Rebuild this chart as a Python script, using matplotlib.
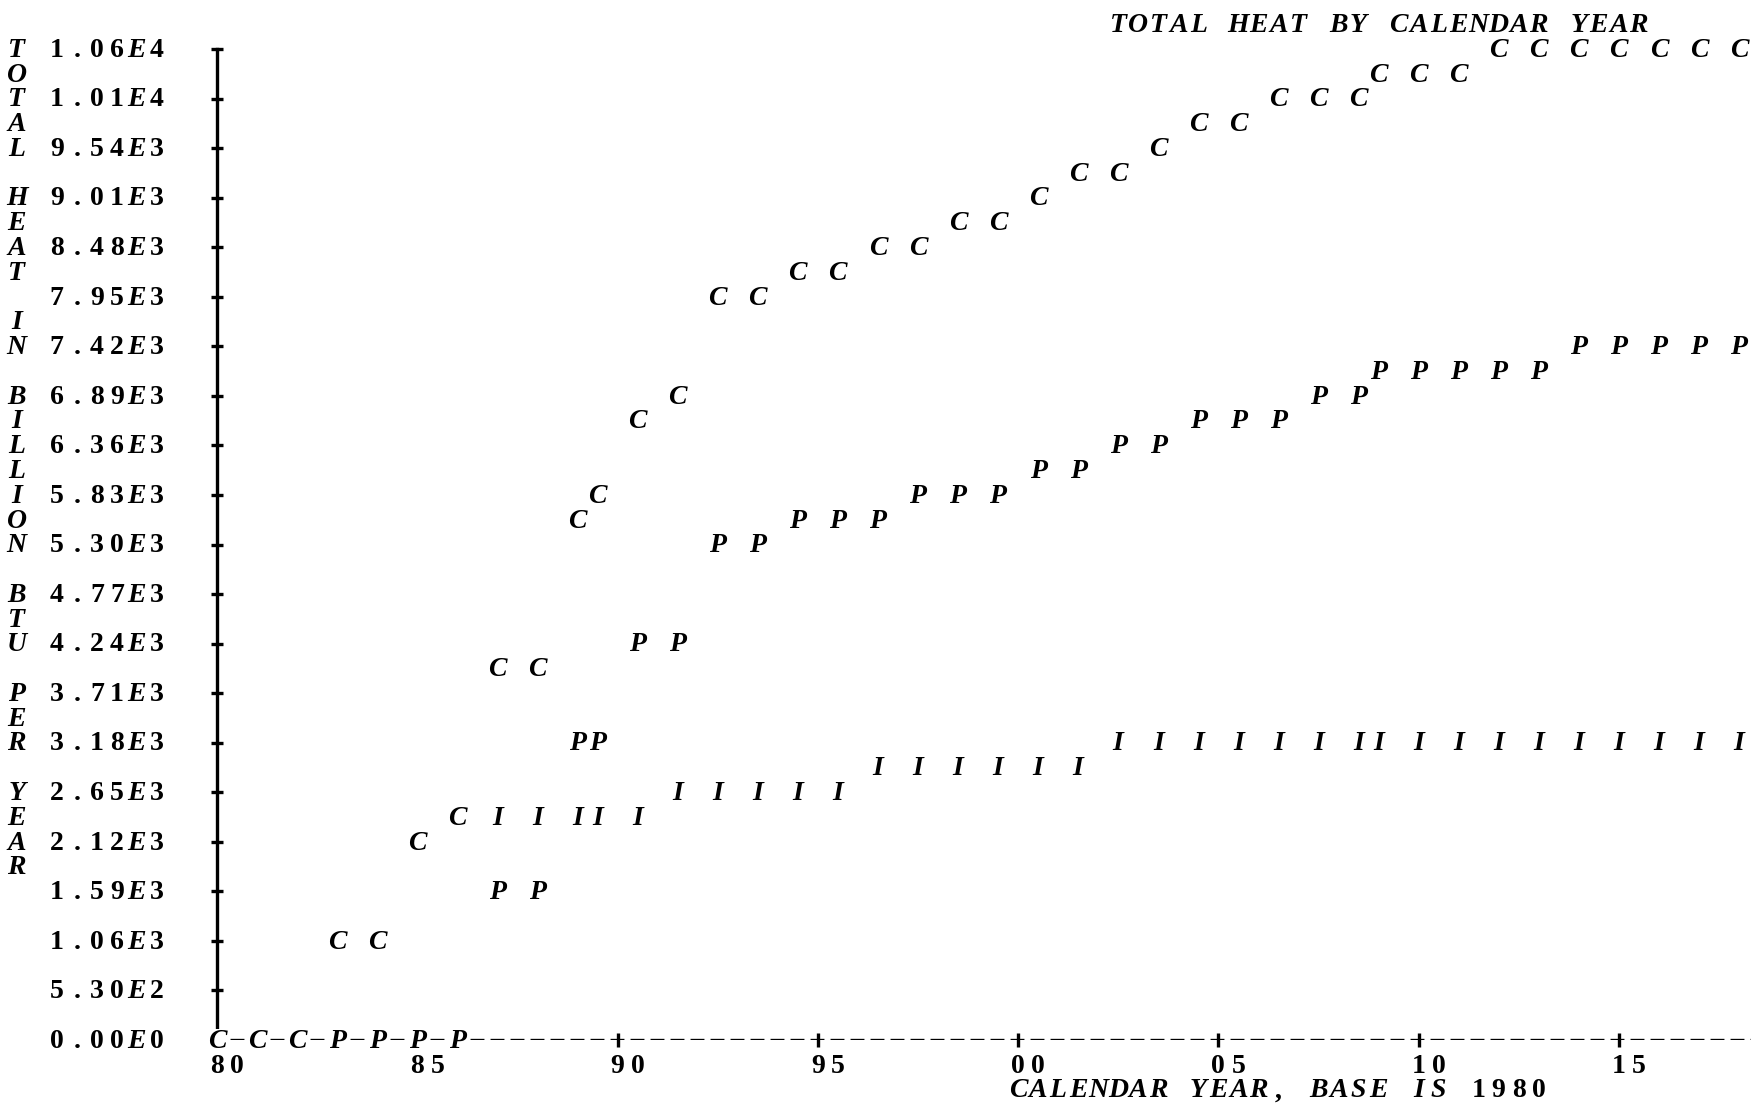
import matplotlib
matplotlib.use("Agg")
import matplotlib.pyplot as plt
from matplotlib.transforms import offset_copy

# line-printer grid: one column = half a year, one row = 265 units
COL = 0.5
ROW = 265

# C series (as printed, x in calendar year base 1980)
c_years = [80, 81, 82, 83, 84, 85, 86, 87, 88, 89,
           89.5, 90.5, 91.5, 92.5, 93.5, 94.5, 95.5, 96.5, 97.5, 98.5,
           99.5, 100.5, 101.5, 102.5, 103.5, 104.5, 105.5, 106.5, 107.5, 108.5,
           109, 110, 111, 112, 113, 114, 115, 116, 117, 118]
c_heat = [0, 0, 0, 1060, 1060, 2120, 2385, 3975, 3975, 5565,
          5830, 6625, 6890, 7950, 7950, 8215, 8215, 8480, 8480, 8745,
          8745, 9010, 9275, 9275, 9540, 9805, 9805, 10070, 10070, 10070,
          10335, 10335, 10335, 10600, 10600, 10600, 10600, 10600, 10600, 10600]

# P series
p_years = [83, 84, 85, 86, 87, 88, 89,
           89.5, 90.5, 91.5, 92.5, 93.5, 94.5, 95.5, 96.5, 97.5, 98.5,
           99.5, 100.5, 101.5, 102.5, 103.5, 104.5, 105.5, 106.5, 107.5, 108.5,
           109, 110, 111, 112, 113, 114, 115, 116, 117, 118]
p_heat = [0, 0, 0, 0, 1590, 1590, 3180,
          3180, 4240, 4240, 5300, 5300, 5565, 5565, 5565, 5830, 5830,
          5830, 6095, 6095, 6360, 6360, 6625, 6625, 6625, 6890, 6890,
          7155, 7155, 7155, 7155, 7155, 7420, 7420, 7420, 7420, 7420]

# I series
i_years = [87, 88, 89, 89.5, 90.5, 91.5, 92.5, 93.5, 94.5, 95.5,
           96.5, 97.5, 98.5, 99.5, 100.5, 101.5, 102.5, 103.5, 104.5, 105.5,
           106.5, 107.5, 108.5, 109, 110, 111, 112, 113, 114, 115,
           116, 117, 118]
i_heat = [2385, 2385, 2385, 2385, 2385, 2650, 2650, 2650, 2650, 2650,
          2915, 2915, 2915, 2915, 2915, 2915, 3180, 3180, 3180, 3180,
          3180, 3180, 3180, 3180, 3180, 3180, 3180, 3180, 3180, 3180,
          3180, 3180, 3180]

y_ticks = [10600, 10070, 9540, 9010, 8480, 7950, 7420, 6890, 6360, 5830, 5300,
           4770, 4240, 3710, 3180, 2650, 2120, 1590, 1060, 530, 0]
y_tick_labels = ["1.06E4", "1.01E4", "9.54E3", "9.01E3", "8.48E3", "7.95E3",
                 "7.42E3", "6.89E3", "6.36E3", "5.83E3", "5.30E3", "4.77E3",
                 "4.24E3", "3.71E3", "3.18E3", "2.65E3", "2.12E3", "1.59E3",
                 "1.06E3", "5.30E2", "0.00E0"]
x_ticks = [80, 85, 90, 95, 100, 105, 110, 115]
x_tick_labels = ["80", "85", "90", "95", "00", "05", "10", "15"]

title = "TOTAL HEAT BY CALENDAR YEAR"
x_label = "CALENDAR YEAR, BASE IS 1980"
y_label = "TOTAL HEAT IN BILLION BTU PER YEAR"

FONT = "Liberation Serif"
SIZE = 20


def put_char(ax, x, y, ch, bg=False):
    style = "italic" if ch.isalpha() else "normal"
    kw = {}
    if bg:
        kw["bbox"] = dict(facecolor="white", edgecolor="none", pad=0.3)
    # baseline shifted down by about half the cap height so letters sit on the row
    tr = offset_copy(ax.transData, fig=ax.figure, y=-0.28 * SIZE, units="points")
    ax.text(x, y, ch, ha="center", va="baseline", family=FONT, size=SIZE,
            weight="bold", style=style, color="black", clip_on=False,
            transform=tr, **kw)


def put(ax, x, y, s):
    # print a string one character per printer column
    for k, ch in enumerate(s):
        if ch != " ":
            put_char(ax, x + k * COL, y, ch)


fig = plt.figure(figsize=(17.51, 11.03), dpi=100)
ax = fig.add_axes([217 / 1751, 63 / 1103, 1 - 217 / 1751, 991 / 1103])
ax.set_xlim(80, 80 + 1534 / 40.05)
ax.set_ylim(0, 10600)

for s in ["top", "right", "bottom"]:
    ax.spines[s].set_visible(False)
ax.spines["left"].set_linewidth(2.4)

# dashed x axis, one dash per printer column
plt.rcParams["lines.scale_dashes"] = False
ax.axhline(0, color="black", lw=2.4, linestyle=(5.0, (10.0, 4.4)), zorder=2)

ax.set_yticks(y_ticks[:-1])
ax.set_xticks(x_ticks[2:])
ax.tick_params(axis="y", direction="inout", length=9, width=2.4, labelleft=False)
ax.tick_params(axis="x", direction="inout", length=10, width=2.4, labelbottom=False)

# tick labels
for v, lab in zip(y_ticks, y_tick_labels):
    put(ax, 80 - 8 * COL, v, lab)
for v, lab in zip(x_ticks, x_tick_labels):
    put(ax, v, -1 * ROW, lab)

# vertical axis title, one letter per row
for k, ch in enumerate(y_label):
    if ch != " ":
        put_char(ax, 80 - 10 * COL, (40 - k) * ROW, ch)

put(ax, 80 + 40 * COL, -2 * ROW, x_label)
put(ax, 80 + 45 * COL, 41 * ROW, title)

# data points, printed as letters
for x, y in zip(i_years, i_heat):
    put_char(ax, x, y, "I", bg=True)
for x, y in zip(p_years, p_heat):
    put_char(ax, x, y, "P", bg=True)
for x, y in zip(c_years, c_heat):
    put_char(ax, x, y, "C", bg=True)

fig.savefig("out.png", dpi=100)
